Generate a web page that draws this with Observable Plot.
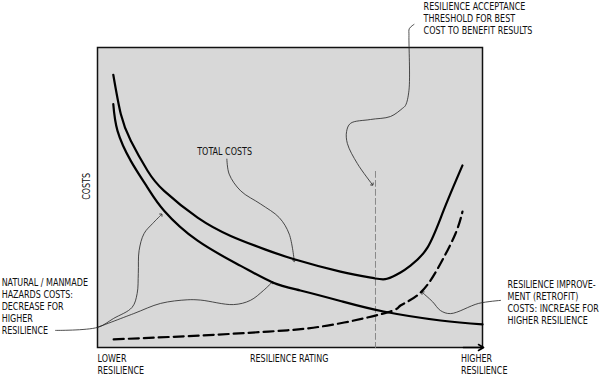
<!DOCTYPE html>
<html>
<head>
<meta charset="utf-8">
<script src="https://cdn.jsdelivr.net/npm/d3@7"></script>
<script src="https://cdn.jsdelivr.net/npm/@observablehq/plot@0.6"></script>
<style>
  html, body { margin: 0; padding: 0; background: #fff; }
  #chart svg { display: block; }
</style>
</head>
<body>
<div id="chart"></div>
<script>
// Resilience rating (0 = lower, 100 = higher) vs costs (0..100, schematic)
const totalCostX = [4.1, 6.05, 8.65, 13.0, 17.3, 26.0, 34.6, 43.3, 51.1, 63.1, 71.8, 75.2, 78.7, 81.3, 85.7, 89.9, 94.8];
const totalCostY = [90.9, 77.8, 68.9, 58.9, 52.2, 43.3, 37.2, 32.8, 29.4, 25.3, 23.1, 22.9, 25.0, 27.3, 33.3, 45.7, 60.7];

const hazardCostX = [4.1, 5.2, 8.65, 13.0, 17.3, 26.0, 37.2, 45.5, 52.7, 63.1, 74.3, 89.1, 100];
const hazardCostY = [81.1, 72.2, 62.2, 53.3, 45.6, 35.6, 27.2, 21.7, 19.0, 15.5, 12.0, 9.0, 7.7];

const retrofitCostX = [4.2, 26.8, 44.4, 59.7, 75.3, 78.7, 83.9, 89.1, 93.0, 94.8];
const retrofitCostY = [2.7, 4.0, 5.3, 7.3, 11.7, 14.0, 18.3, 28.0, 38.0, 45.3];

const thresholdX = [72.2, 72.2];
const thresholdY = [58.7, 0];

// leader lines (annotation callouts)
const leaderTotalX = [33.6, 34.2, 37.2, 42.4, 47.2, 49.8, 51.1];
const leaderTotalY = [62.8, 57.8, 52.2, 47.8, 43.3, 37.8, 28.9];
const leaderThresholdX = [82.2, 81.0, 80.9, 80.9, 80.0, 79.2, 76.1, 70.9, 65.7, 64.7, 64.9, 67.5, 71.4];
const leaderThresholdY = [107.7, 106.3, 104.0, 85.7, 80.7, 79.7, 77.0, 76.0, 74.7, 72.0, 68.0, 61.3, 54.3];
const leaderHazardAX = [-10.9, 0, 4.2, 9.0, 10.3, 10.6, 10.8, 12.1, 14.3, 16.6];
const leaderHazardAY = [5.7, 6.7, 9.7, 13.4, 18.0, 24.7, 32.3, 38.0, 41.3, 44.3];
const leaderHazardBX = [0, 9.4, 16.4, 23.3, 26.8, 35.3, 39.7, 43.1, 45.4];
const leaderHazardBY = [6.7, 11.3, 14.7, 15.9, 15.8, 14.3, 15.7, 19.0, 21.8];
const leaderRetrofitX = [104.7, 99.0, 91.7, 89.1, 87.0, 84.4];
const leaderRetrofitY = [15.7, 14.7, 11.3, 12.3, 15.3, 18.3];

// labels
const labelText = [
  "RESILIENCE ACCEPTANCE\nTHRESHOLD FOR BEST\nCOST TO BENEFIT RESULTS",
  "TOTAL COSTS",
  "NATURAL / MANMADE\nHAZARDS COSTS:\nDECREASE FOR\nHIGHER\nRESILIENCE",
  "RESILIENCE IMPROVE-\nMENT (RETROFIT)\nCOSTS: INCREASE FOR\nHIGHER RESILIENCE",
  "LOWER\nRESILIENCE",
  "RESILIENCE RATING",
  "HIGHER\nRESILIENCE"
];
const labelX = [84.7, 25.9, -24.9, 106.5, 0, 39.6, 94.4];
const labelY = [109.9, 65.3, 13.7, 15.2, -5.5, -3.7, -5.5];
const axisLabel = ["COSTS"];
const axisLabelX = [-2.9];
const axisLabelY = [53.7];

const zip = (xs, ys) => xs.map((x, i) => ({x, y: ys[i]}));
const total = zip(totalCostX, totalCostY);
const hazard = zip(hazardCostX, hazardCostY);
const retrofit = zip(retrofitCostX, retrofitCostY);
const threshold = zip(thresholdX, thresholdY);
const labels = labelText.map((t, i) => ({text: t, x: labelX[i], y: labelY[i]}));
const axisLabels = axisLabel.map((t, i) => ({text: t, x: axisLabelX[i], y: axisLabelY[i]}));

const leader = (xs, ys) => Plot.line(zip(xs, ys), {
  x: "x", y: "y", curve: "catmull-rom", stroke: "#222", strokeWidth: 0.8,
  markerEnd: "arrow"
});

const chart = Plot.plot({
  width: 600,
  height: 376,
  marginLeft: 97,
  marginRight: 118,
  marginTop: 47,
  marginBottom: 29,
  x: {domain: [0, 100], axis: null},
  y: {domain: [0, 100], axis: null},
  style: {
    background: "#fff",
    fontFamily: "'DejaVu Sans Condensed', 'Liberation Sans Narrow', sans-serif",
    overflow: "visible"
  },
  marks: [
    Plot.frame({fill: "#d8d8d8", stroke: "#111", strokeWidth: 1.5}),
    Plot.line(threshold, {x: "x", y: "y", stroke: "#888", strokeWidth: 1, strokeDasharray: "6,3"}),
    leader(leaderTotalX, leaderTotalY),
    leader(leaderThresholdX, leaderThresholdY),
    leader(leaderHazardAX, leaderHazardAY),
    leader(leaderHazardBX, leaderHazardBY),
    leader(leaderRetrofitX, leaderRetrofitY),
    Plot.line(hazard, {x: "x", y: "y", curve: "natural", stroke: "#000", strokeWidth: 2.2}),
    Plot.line(total, {x: "x", y: "y", curve: "natural", stroke: "#000", strokeWidth: 2.2}),
    Plot.line(retrofit, {x: "x", y: "y", curve: "natural", stroke: "#000", strokeWidth: 2.2, strokeDasharray: "10,5"}),
    Plot.arrow([{x1: 95, y1: 0, x2: 100.3, y2: 0}], {x1: "x1", y1: "y1", x2: "x2", y2: "y2", stroke: "#000", strokeWidth: 1.5, headLength: 6}),
    Plot.text(labels, {x: "x", y: "y", text: "text", textAnchor: "start", lineAnchor: "middle", lineHeight: 1.2, fontSize: 10, fill: "#111"}),
    Plot.text(axisLabels, {x: "x", y: "y", text: "text", rotate: -90, textAnchor: "middle", lineAnchor: "middle", fontSize: 10, fill: "#111"})
  ]
});

// condense the lettering horizontally, like the reference's narrow drafting font
chart.querySelectorAll("text").forEach((t) => {
  const tr = t.getAttribute("transform");
  if (tr) {
    t.setAttribute("transform", tr + " scale(0.89,1)");
  } else {
    const x = +t.getAttribute("x") || 0, y = +t.getAttribute("y") || 0;
    t.setAttribute("x", 0); t.setAttribute("y", 0);
    t.setAttribute("transform", `translate(${x},${y}) scale(0.89,1)`);
  }
});

document.getElementById("chart").appendChild(chart);
</script>
</body>
</html>
